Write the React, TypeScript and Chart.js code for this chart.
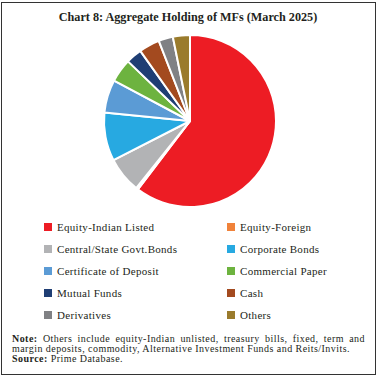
import React, { useEffect, useRef } from "react";
import { Chart, registerables } from "chart.js";

Chart.register(...registerables);

const title = "Chart 8: Aggregate Holding of MFs (March 2025)";
const categories = [
  "Equity-Indian Listed",
  "Equity-Foreign",
  "Central/State Govt.Bonds",
  "Corporate Bonds",
  "Certificate of Deposit",
  "Commercial Paper",
  "Mutual Funds",
  "Cash",
  "Derivatives",
  "Others",
];
const shares = [60.3, 0.4, 6.7, 9.1, 6.2, 4.4, 3.0, 3.9, 2.7, 3.2];
const colors = [
  "#ED1C24",
  "#F0823A",
  "#B2B3B5",
  "#27A9E1",
  "#5B9BD5",
  "#6DB33F",
  "#1F3E74",
  "#A34A1F",
  "#808184",
  "#9A7B2C",
];
const noteLine1 = "Others include equity-Indian unlisted, treasury bills, fixed, term and";
const noteLine2 = "margin deposits, commodity, Alternative Investment Funds and Reits/Invits.";
const sourceText = "Prime Database.";

const serif = '"Liberation Serif", "DejaVu Serif", serif';

export default function App() {
  const ref = useRef<HTMLCanvasElement | null>(null);
  useEffect(() => {
    if (!ref.current) return;
    const chart = new Chart(ref.current, {
      type: "pie",
      data: {
        labels: categories,
        datasets: [
          {
            data: shares,
            backgroundColor: colors,
            borderColor: "#ffffff",
            borderWidth: 2,
          },
        ],
      },
      options: {
        animation: false,
        responsive: false,
        maintainAspectRatio: false,
        radius: 86,
        layout: { padding: 0 },
        plugins: {
          legend: { display: false },
          tooltip: { enabled: false },
        },
      },
    });
    return () => chart.destroy();
  }, []);

  const noteStyle: React.CSSProperties = {
    position: "absolute",
    left: 12,
    width: 353,
    fontSize: 10,
    letterSpacing: 0.45,
    lineHeight: "10px",
    whiteSpace: "nowrap",
  };

  return (
    <div
      style={{
        position: "absolute",
        left: 0,
        top: 0,
        width: 380,
        height: 380,
        background: "#fff",
        fontFamily: serif,
        color: "#231F20",
      }}
    >
      <div
        style={{
          position: "absolute",
          left: 1,
          top: 2,
          width: 373,
          height: 371,
          border: "1.3px solid #333",
        }}
      />
      <div
        style={{
          position: "absolute",
          left: 0,
          top: 9,
          width: 376,
          textAlign: "center",
          fontWeight: "bold",
          fontSize: 12.2,
          lineHeight: "16px",
        }}
      >
        {title}
      </div>
      <canvas
        ref={ref}
        width={380}
        height={190}
        style={{ position: "absolute", left: 0, top: 26, width: 380, height: 190 }}
      />
      {categories.map((c, i) => {
        const col = i % 2;
        const row = Math.floor(i / 2);
        const x = col === 0 ? 44 : 227;
        const y = 227 + row * 22;
        return (
          <div
            key={c}
            style={{
              position: "absolute",
              left: x,
              top: y - 7,
              height: 14,
              display: "flex",
              alignItems: "center",
              fontSize: 11,
              letterSpacing: 0.3,
              whiteSpace: "nowrap",
            }}
          >
            <span
              style={{
                display: "inline-block",
                width: 8,
                height: 8,
                background: colors[i],
                marginRight: 5,
              }}
            />
            <span>{c}</span>
          </div>
        );
      })}
      <div style={{ ...noteStyle, top: 334, textAlign: "justify", textAlignLast: "justify", whiteSpace: "normal" }}>
        <b>Note:</b> {noteLine1}
      </div>
      <div style={{ ...noteStyle, top: 344 }}>{noteLine2}</div>
      <div style={{ ...noteStyle, top: 354 }}>
        <b>Source:</b> {sourceText}
      </div>
    </div>
  );
}
